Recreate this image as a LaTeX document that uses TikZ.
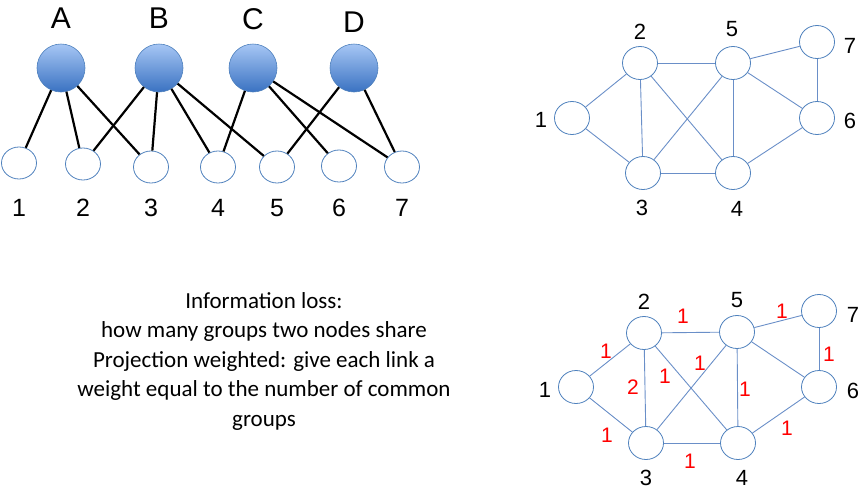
\documentclass[tikz,border=0pt]{standalone}
\usepackage{fontspec}
\setmainfont{Liberation Sans}
\newfontfamily\noteFont{Carlito}
\usetikzlibrary{shapes.geometric}
\definecolor{gBlue}{HTML}{4F81BD}
\definecolor{gEdge}{HTML}{6A8FC8}
\definecolor{gTop}{HTML}{A6C6F4}
\definecolor{gBot}{HTML}{3A72C2}
\definecolor{gRed}{HTML}{FF0000}
\tikzset{
  groupNode/.style={
    circle, draw=gBlue, line width=0.6pt, top color=gTop, bottom color=gBot,
    minimum size=48pt, inner sep=0pt,
  },
  memberNode/.style={
    ellipse, draw=gBlue, line width=0.8pt, fill=white,
    minimum width=35pt, minimum height=32pt, inner sep=0pt,
  },
  projNode/.style={memberNode, minimum width=35pt, minimum height=33pt},
  groupLabel/.style={font=\fontsize{30}{34}\selectfont, inner sep=0pt},
  memberLabel/.style={font=\fontsize{25}{28}\selectfont, inner sep=0pt},
  projLabel/.style={font=\fontsize{22}{25}\selectfont, inner sep=0pt},
  weightLabel/.style={font=\fontsize{21}{24}\selectfont, text=gRed, inner sep=0pt},
  memberEdge/.style={black, line width=2.2pt},
  linkEdge/.style={gEdge, line width=0.9pt},
}

\begin{document}
\begin{tikzpicture}[x=1pt, y=-1pt]
\useasboundingbox (0,0) rectangle (862,491);

% ============================================================
% Bipartite network: groups A--D on top, members 1--7 below.
% ============================================================
\foreach \g/\gx/\ly in {A/61/18, B/159/18, C/253/19, D/354/22} {
  \node[groupNode] (g\g) at (\gx, 68) {};
  \node[groupLabel] (lab\g) at (\gx, \ly) {\g};
}

\foreach \m/\mx/\my in {1/19/163, 2/83/164, 3/151/167, 4/218/167,
                        5/277/167, 6/339/166, 7/402/167} {
  \node[memberNode] (m\m) at (\mx, \my) {};
  \node[memberLabel] (mlab\m) at (\mx, 208) {\m};
}

% memberships
\foreach \g/\m in {A/1, A/2, A/3, B/2, B/3, B/4, B/5, C/4, C/6, C/7, D/5, D/7}
  \draw[memberEdge] (g\g) -- (m\m);

% ============================================================
% One-mode projection (top right)
% ============================================================
\foreach \p/\px/\py/\lx/\lly in {1/572/118/541/120, 2/640/63/640/32,
                                 5/733/63/732/29, 7/817/42/850/46,
                                 6/817/118/850/121, 3/643/173/642/208,
                                 4/733/173/737/209} {
  \node[projNode] (t\p) at (\px, \py) {};
  \node[projLabel] (tlab\p) at (\lx, \lly) {\p};
}

\foreach \a/\b in {1/2, 1/3, 2/5, 2/3, 2/4, 3/5, 3/4, 5/4, 5/7, 5/6, 7/6, 6/4}
  \draw[linkEdge] (t\a) -- (t\b);

% ============================================================
% Weighted projection (bottom right)
% ============================================================
\foreach \p/\px/\py/\lx/\lly in {1/576/387/545/390, 2/644/333/644/302,
                                 5/737/332/737/300, 7/819/311/853/315,
                                 6/819/387/853/391, 3/646/443/646/478,
                                 4/738/443/742/478} {
  \node[projNode] (w\p) at (\px, \py) {};
  \node[projLabel] (wlab\p) at (\lx, \lly) {\p};
}

\foreach \a/\b in {1/2, 1/3, 2/5, 2/3, 2/4, 3/5, 3/4, 5/4, 5/7, 5/6, 7/6, 6/4}
  \draw[linkEdge] (w\a) -- (w\b);

% weights, next to their links
\foreach \k/\wx/\wy/\v in {a/606/351/1, b/683/316/1, c/782/311/1, d/829/354/1,
                           e/633/387/2, f/665/376/1, g/700/363/1, h/745/389/1,
                           i/787/428/1, j/607/435/1, k/690/461/1}
  \node[weightLabel] (wt\k) at (\wx, \wy) {\v};

% ============================================================
% Note
% ============================================================
\node[font=\noteFont\fontsize{23}{29.5}\selectfont, align=center, inner sep=0pt]
  (note) at (264, 361)
  {Information loss:\\
   how many groups two nodes share\\
   Projection weighted: give each link a\\
   weight equal to the number of common\\
   groups};

\end{tikzpicture}
\end{document}
